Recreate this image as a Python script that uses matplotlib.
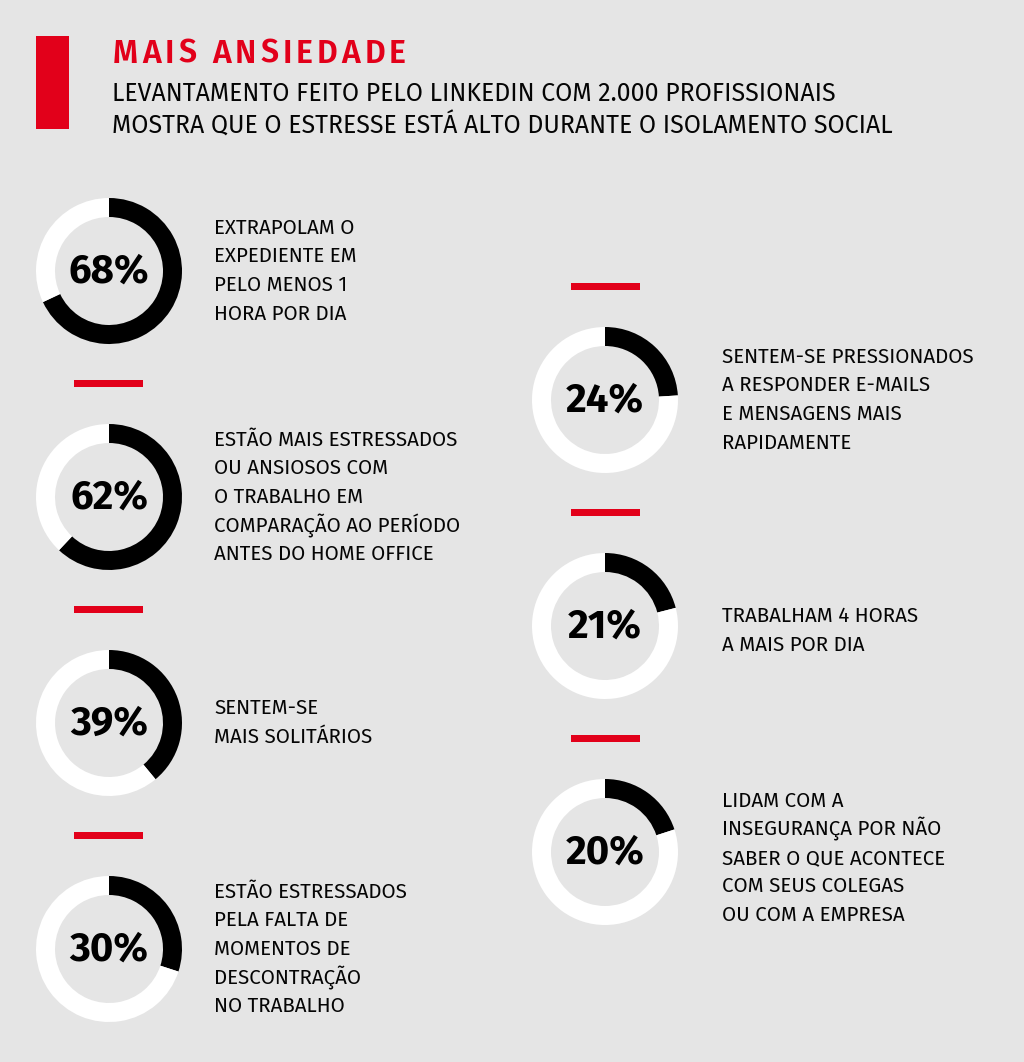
import matplotlib.pyplot as plt
from matplotlib.patches import Rectangle

W, H = 1024, 1062
BG = '#e5e5e5'
RED = '#e2001a'

title = 'MAIS ANSIEDADE'
subtitle = ['LEVANTAMENTO FEITO PELO LINKEDIN COM 2.000 PROFISSIONAIS',
            'MOSTRA QUE O ESTRESSE ESTÁ ALTO DURANTE O ISOLAMENTO SOCIAL']

left_values = [68, 62, 39, 30]
left_labels = [
    ['EXTRAPOLAM O', 'EXPEDIENTE EM', 'PELO MENOS 1', 'HORA POR DIA'],
    ['ESTÃO MAIS ESTRESSADOS', 'OU ANSIOSOS COM', 'O TRABALHO EM',
     'COMPARAÇÃO AO PERÍODO', 'ANTES DO HOME OFFICE'],
    ['SENTEM-SE', 'MAIS SOLITÁRIOS'],
    ['ESTÃO ESTRESSADOS', 'PELA FALTA DE', 'MOMENTOS DE',
     'DESCONTRAÇÃO', 'NO TRABALHO'],
]
right_values = [24, 21, 20]
right_labels = [
    ['SENTEM-SE PRESSIONADOS', 'A RESPONDER E-MAILS',
     'E MENSAGENS MAIS', 'RAPIDAMENTE'],
    ['TRABALHAM 4 HORAS', 'A MAIS POR DIA'],
    ['LIDAM COM A', 'INSEGURANÇA POR NÃO', 'SABER O QUE ACONTECE',
     'COM SEUS COLEGAS', 'OU COM A EMPRESA'],
]

FONT = ['Fira Sans', 'DejaVu Sans']

fig = plt.figure(figsize=(W / 100, H / 100), dpi=100, facecolor=BG)
ax = fig.add_axes([0, 0, 1, 1])
ax.set_facecolor(BG)
ax.set_xlim(0, W)
ax.set_ylim(0, H)
renderer = fig.canvas.get_renderer()


def Y(y):
    return H - y


# cabeçalho
ax.add_patch(Rectangle((36, Y(129)), 33, 93, color=RED, lw=0))

# título com espaçamento entre letras
track = 4.0
x = 113
for ch in title:
    t = ax.text(x, Y(54), ch, color=RED, fontsize=23, fontweight='semibold',
                family=FONT, va='center', ha='left')
    if ch == ' ':
        w = 8
    else:
        w = t.get_window_extent(renderer).width
    x += w + track

for i, line in enumerate(subtitle):
    ax.text(112, Y(94 + i * 32), line, color='#050505', fontsize=17.9,
            family=FONT, va='center', ha='left')


def donut(cx, cy, val, lines, tx, text_dy=0):
    ax.pie([val, 100 - val], colors=['black', 'white'], startangle=90,
           counterclock=False, center=(cx, Y(cy)), radius=73,
           wedgeprops=dict(width=19, linewidth=0), frame=False)
    ax.text(cx, Y(cy + 1), f'{val}%', fontsize=29, fontweight='bold',
            family=FONT, ha='center', va='center', color='black')
    n = len(lines)
    y0 = cy + text_dy - (n - 1) * 28.6 / 2
    for k, s in enumerate(lines):
        ax.text(tx, Y(y0 + k * 28.6), s, fontsize=14.8,
                family=FONT, ha='left', va='center', color='#050505')


for i, (v, lab) in enumerate(zip(left_values, left_labels)):
    cy = 271 + i * 226
    donut(109, cy, v, lab, 214)
    if i < len(left_values) - 1:
        ax.add_patch(Rectangle((74, Y(cy + 116)), 69, 7, color=RED, lw=0))

for i, (v, lab) in enumerate(zip(right_values, right_labels)):
    cy = 400 + i * 226
    donut(605, cy, v, lab, 722, text_dy=[0, 5, 6][i])
    ax.add_patch(Rectangle((571, Y(cy - 110)), 69, 7, color=RED, lw=0))

ax.set_xlim(0, W)
ax.set_ylim(0, H)
ax.set_aspect('auto')
ax.axis('off')

fig.savefig('out.png', dpi=100, facecolor=BG)
